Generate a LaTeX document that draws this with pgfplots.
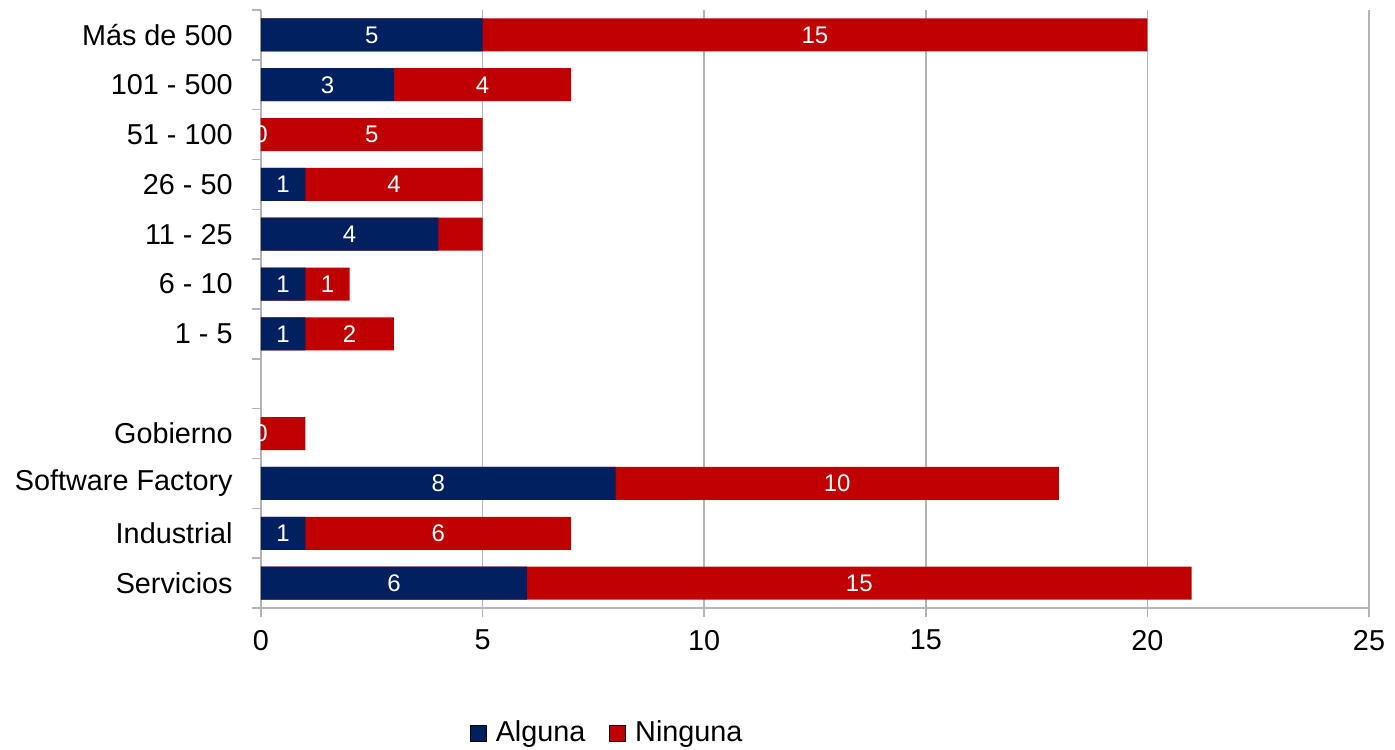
\documentclass[border=0pt]{standalone}
\usepackage{pgfplots}
\pgfplotsset{compat=1.18}
\usepackage{pgfplotstable}
\usepackage{fontspec}
\setmainfont{Liberation Sans}
\definecolor{alg}{HTML}{002060}
\definecolor{nin}{HTML}{C00000}
\definecolor{axgray}{HTML}{B3B3B3}
\pgfplotstableread{
y a b lb
0 6 15 15
1 1 6 6
2 8 10 10
3 0 1 {}
5 1 2 2
6 1 1 1
7 4 1 {}
8 1 4 4
9 0 5 5
10 3 4 4
11 5 15 15
}\datatable
\begin{document}
\begin{tikzpicture}
\path[use as bounding box] (-130.5pt,-70.5pt) rectangle (567pt,304pt);
\begin{axis}[
  at={(0,0)}, anchor=south west,
  scale only axis, width=554pt, height=299pt,
  xmin=0, xmax=25, ymin=-0.5, ymax=11.5,
  axis lines*=left,
  axis line style={axgray, line width=0.8pt},
  xtick={0,5,...,25},
  xmajorgrids, grid style={axgray, line width=0.8pt},
  ytick={-0.5,0.5,...,11.5}, yticklabels={},
  tick align=outside, major tick length=4.5pt,
  tick style={axgray, line width=0.8pt},
  extra y ticks={0,...,11},
  extra y tick labels={Servicios,Industrial,Software Factory,Gobierno,{},1 - 5,6 - 10,11 - 25,26 - 50,51 - 100,101 - 500,Más de 500},
  extra y tick style={major tick length=0pt, grid=none},
  tick label style={font=\fontsize{14.4}{17}\selectfont, text=black},
  yticklabel style={inner sep=0pt, xshift=-14pt},
  xticklabel style={inner sep=0pt, yshift=-6.3pt},
  /pgf/number format/assume math mode=true,
  clip marker paths=true,
  legend columns=2,
  legend style={at={(axis description cs:0.1886,-0.209)}, anchor=west, draw=none, fill=none,
    inner sep=0pt, outer sep=0pt, font=\fontsize{14.4}{17}\selectfont,
    /tikz/every even column/.append style={column sep=10pt}},
  legend image code/.code={\fill[#1] (0pt,-4pt) rectangle (8pt,4pt); \path (10.5pt,0pt);},
]
\addplot[xbar, bar width=16.5pt, bar shift=0pt, fill=nin, draw=none, forget plot]
  table[x expr=\thisrow{a}+\thisrow{b}, y=y]{\datatable};
\addplot[xbar, bar width=16.5pt, bar shift=0pt, fill=alg, draw=none, forget plot]
  table[x=a, y=y]{\datatable};
\addplot[draw=none, mark=none, forget plot, nodes near coords, point meta=explicit symbolic,
  every node near coord/.append style={white, anchor=center, font=\fontsize{12}{14}\selectfont}]
  table[x expr=\thisrow{a}/2, y=y, meta=a]{\datatable};
\addplot[draw=none, mark=none, forget plot, nodes near coords, point meta=explicit symbolic,
  every node near coord/.append style={white, anchor=center, font=\fontsize{12}{14}\selectfont}]
  table[x expr=\thisrow{a}+\thisrow{b}/2, y=y, meta=lb]{\datatable};
\addlegendimage{fill=alg}
\addlegendentry{Alguna}
\addlegendimage{fill=nin}
\addlegendentry{Ninguna}
\end{axis}
\end{tikzpicture}
\end{document}
